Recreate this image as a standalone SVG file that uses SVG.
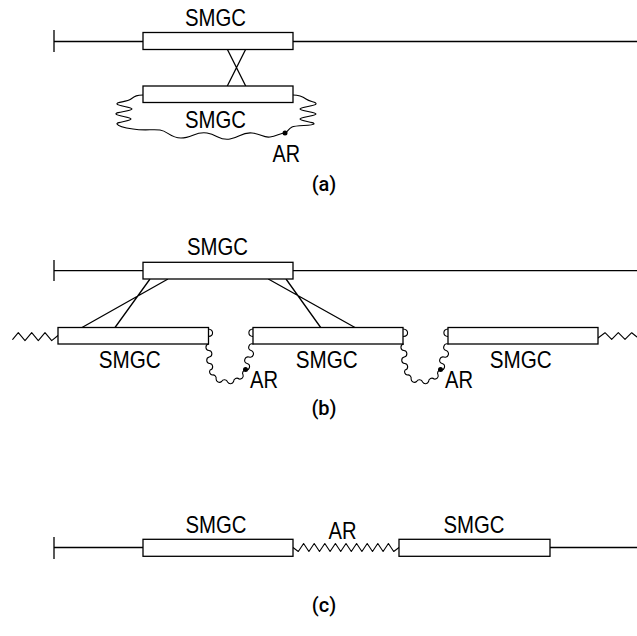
<svg xmlns="http://www.w3.org/2000/svg" width="637" height="636" viewBox="0 0 637 636">
<style>
.bx{fill:#fff;stroke:#000;stroke-width:1.3}
.ln{fill:none;stroke:#000;stroke-width:1.3}
.wv{fill:none;stroke:#000;stroke-width:1.1;stroke-linejoin:round;stroke-linecap:round}
.t{font-family:"Liberation Sans",Arial,sans-serif;font-size:24px;fill:#000}
.cap{font-family:Roboto,"Liberation Sans",sans-serif;font-size:20px;font-weight:500;fill:#000;text-anchor:middle}
</style>
<defs>
  <path id="ubend" class="wv" d="M208,329 C214,329.5 214,336 208.5,336.5 M208.5,344 a3.3,3.3 0 0 0 0.4,6.5 a3.3,3.3 0 0 1 0.4,6.5 a3.3,3.3 0 0 0 0.4,6.5 a3.3,3.3 0 0 1 0.4,6.5 a3.3,3.3 0 0 0 2,5 a3.3,3.3 0 0 1 4,4 a3.3,3.3 0 0 0 5.5,2.5 a3.3,3.3 0 0 1 6,0.5 a3.3,3.3 0 0 0 6,-0.5 a3.3,3.3 0 0 1 5.5,-2.5 a3.3,3.3 0 0 0 4,-4 a3.3,3.3 0 0 1 2,-5 a3.3,3.3 0 0 0 2,-6.5 a3.3,3.3 0 0 1 2,-6.5 a3.3,3.3 0 0 0 2,-6.5 a3.3,3.3 0 0 1 2,-6.5 M253,329 C247.5,329.5 247.5,336 253,336.5"/>
</defs>
<rect width="637" height="636" fill="#fff"/>
<g id="connectors">
  <!-- (a) -->
  <path class="ln" d="M54,30V52M54,41.5H143M293,41.5H637"/>
  <path class="ln" d="M227.3,49.3L245.7,86M245.7,49.3L227.3,86"/>
  <path class="wv" d="M143,95 C137,95 135,96 131,99 S116,102 117,104 S132,107 132,109 S115,112 116,114 S131,117 131,119 S116,122 117,124 S126,128 133,129 C145,131 152,129 160,130 S170,138 181,138 S196,131 207,133 S220,141 230,139 S242,132 252,133 S263,138 270,137 S280,133 285,133"/>
  <path class="wv" d="M293,95 C299,95 302,96 306,99 S317,102 316,104 S300,107 300,109 S316,112 316,114 S300,117 300,119 S315,122 314,124 S296,125 292,127 S288,132 285,133"/>
  <circle cx="285" cy="133" r="2.5"/>
  <!-- (b) -->
  <path class="ln" d="M54,260V281M54,270.7H143M293,270.7H637"/>
  <path class="ln" d="M168,279L82,327.5M150,279L115,327.5M268.3,279L355,327.5M286,279L320.7,327.5"/>
  <polyline class="wv" points="12.7,339.3 18.3,332.7 25,340.7 31.7,332.7 38.3,340.7 45,332.7 51.7,340.7 58,335.5"/>
  <polyline class="wv" points="598,338 605,332.7 611.7,339.3 618.3,332.7 625,339.3 631.7,332.7 637,337"/>
  <g id="ar-b1">
    <use href="#ubend"/>
    <circle cx="245.5" cy="369.5" r="2.5"/>
  </g>
  <g id="ar-b2" transform="translate(195,0)">
    <use href="#ubend"/>
    <circle cx="245.5" cy="369.5" r="2.5"/>
  </g>
  <!-- (c) -->
  <path class="ln" d="M54,537V559M54,547.5H143M550,547.5H637"/>
  <polyline class="wv" points="293,547.5 298.3,551.5 303.6,543.5 308.9,551.5 314.2,543.5 319.5,551.5 324.8,543.5 330.1,551.5 335.4,543.5 340.7,551.5 346,543.5 351.3,551.5 356.6,543.5 361.9,551.5 367.2,543.5 372.5,551.5 377.8,543.5 383.1,551.5 388.4,543.5 393.7,551.5 399,547.5"/>
</g>
<g id="a-top"><rect class="bx" x="143" y="32.5" width="150" height="17"/><text class="t" x="185" y="25.5" textLength="61" lengthAdjust="spacingAndGlyphs">SMGC</text></g>
<g id="a-bottom"><rect class="bx" x="143" y="86" width="150" height="16.5"/><text class="t" x="185" y="127.5" textLength="61" lengthAdjust="spacingAndGlyphs">SMGC</text></g>
<g id="a-ar"><text class="t" x="272.5" y="161.5" textLength="27.5" lengthAdjust="spacingAndGlyphs">AR</text></g>
<text class="cap" x="324" y="190.5">(a)</text>
<g id="b-top"><rect class="bx" x="143" y="262.3" width="150" height="16.7"/><text class="t" x="187" y="255" textLength="61" lengthAdjust="spacingAndGlyphs">SMGC</text></g>
<g id="b-left"><rect class="bx" x="58" y="327.5" width="150.5" height="16.5"/><text class="t" x="98.7" y="368.3" textLength="62" lengthAdjust="spacingAndGlyphs">SMGC</text></g>
<g id="b-mid"><rect class="bx" x="253" y="327.5" width="150" height="16.5"/><text class="t" x="295.7" y="368.3" textLength="62" lengthAdjust="spacingAndGlyphs">SMGC</text></g>
<g id="b-right"><rect class="bx" x="448" y="327.5" width="150" height="16.5"/><text class="t" x="489.7" y="368.3" textLength="62" lengthAdjust="spacingAndGlyphs">SMGC</text></g>
<g id="b-ar1"><text class="t" x="250" y="388.3" textLength="28" lengthAdjust="spacingAndGlyphs">AR</text></g>
<g id="b-ar2"><text class="t" x="445" y="388.3" textLength="28" lengthAdjust="spacingAndGlyphs">AR</text></g>
<text class="cap" x="324" y="415">(b)</text>
<g id="c-left"><rect class="bx" x="143" y="539.3" width="150" height="17"/><text class="t" x="185.5" y="533" textLength="61" lengthAdjust="spacingAndGlyphs">SMGC</text></g>
<g id="c-ar"><text class="t" x="328.5" y="539" textLength="28" lengthAdjust="spacingAndGlyphs">AR</text></g>
<g id="c-right"><rect class="bx" x="399" y="539.3" width="151" height="17"/><text class="t" x="443.5" y="533" textLength="61" lengthAdjust="spacingAndGlyphs">SMGC</text></g>
<text class="cap" x="324" y="612">(c)</text>
</svg>
